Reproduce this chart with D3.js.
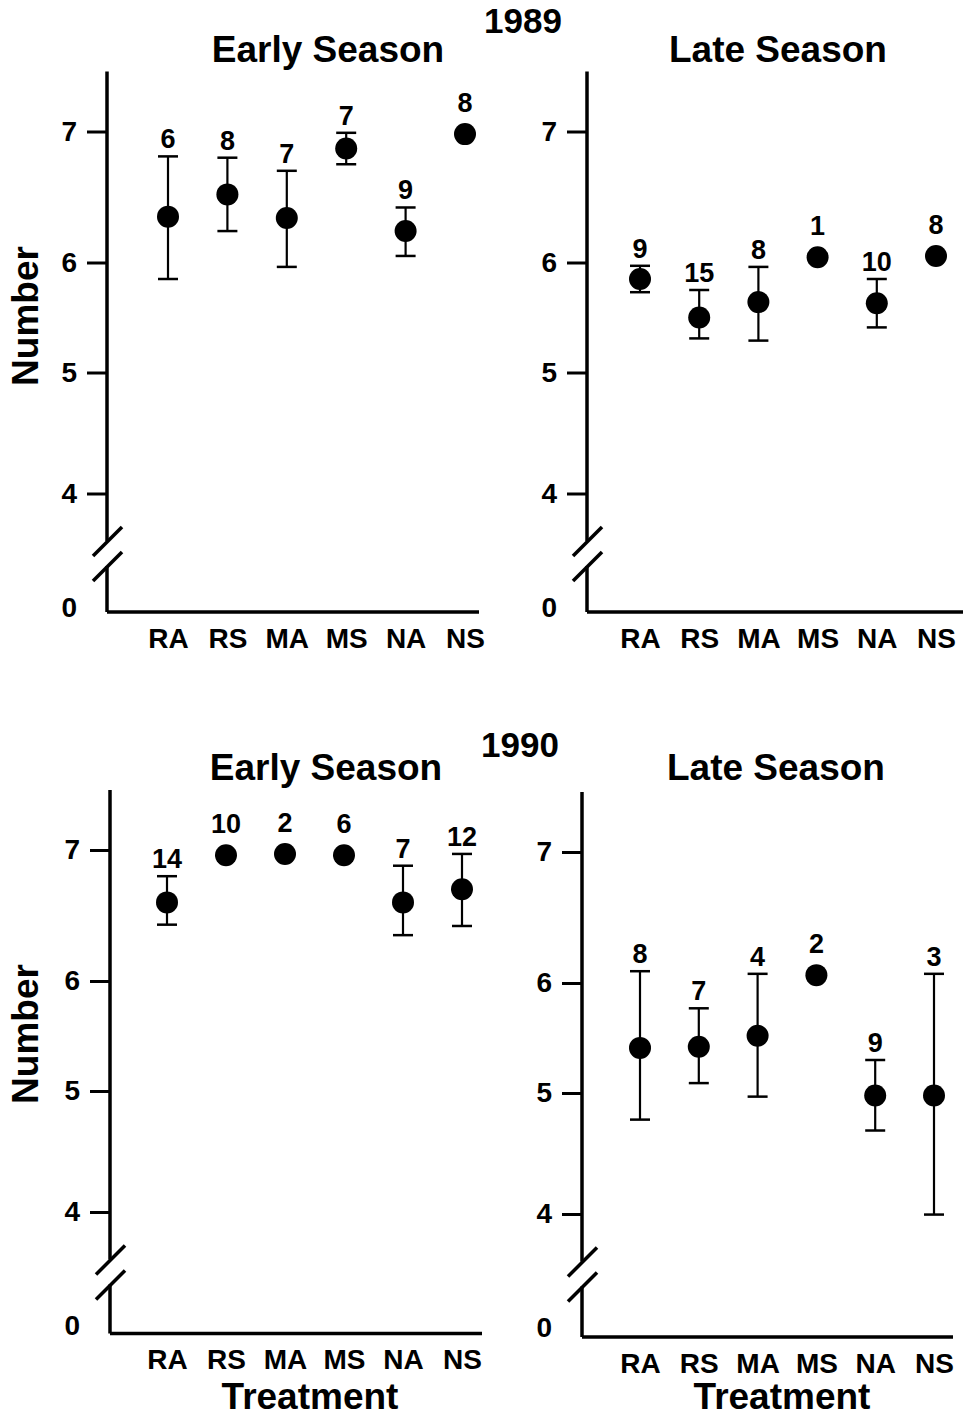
<!DOCTYPE html>
<html>
<head>
<meta charset="utf-8">
<script src="https://cdn.jsdelivr.net/npm/d3@7"></script>
<style>
  body { margin: 0; background: #fff; }
  text { font-family: "Liberation Sans", Arial, Helvetica, sans-serif; font-weight: bold; fill: #000; }
</style>
</head>
<body>
<div id="chart"></div>
<script>
// treatments and y ticks
var treatments = ["RA", "RS", "MA", "MS", "NA", "NS"];
var yTickValues = [0, 4, 5, 6, 7];

// 1989 early season
var early1989Mean = [6.35, 6.52, 6.34, 6.87, 6.24, 6.98];
var early1989Upper = [6.81, 6.80, 6.70, 6.99, 6.42, null];
var early1989Lower = [5.85, 6.24, 5.96, 6.75, 6.05, null];
var early1989N = [6, 8, 7, 7, 9, 8];

// 1989 late season
var late1989Mean = [5.85, 5.50, 5.64, 6.04, 5.63, 6.05];
var late1989Upper = [5.97, 5.75, 5.96, null, 5.85, null];
var late1989Lower = [5.73, 5.31, 5.29, null, 5.41, null];
var late1989N = [9, 15, 8, 1, 10, 8];

// 1990 early season
var early1990Mean = [6.60, 6.96, 6.97, 6.96, 6.60, 6.70];
var early1990Upper = [6.80, null, null, null, 6.88, 6.97];
var early1990Lower = [6.43, null, null, null, 6.35, 6.42];
var early1990N = [14, 10, 2, 6, 7, 12];

// 1990 late season
var late1990Mean = [5.41, 5.42, 5.52, 6.06, 4.98, 4.98];
var late1990Upper = [6.09, 5.77, 6.07, null, 5.30, 6.07];
var late1990Lower = [4.78, 5.09, 4.97, null, 4.69, 3.98];
var late1990N = [8, 7, 4, 2, 9, 3];

function rows(mean, upper, lower, n) {
    return treatments.map(function (t, i) {
        return { t: t, mean: mean[i], hi: upper[i], lo: lower[i], n: n[i] };
    });
}

// panel layout (axis origin, height, first/last category offsets, x axis length)
var panels = [
    { ox: 107, oy: 71.5, h: 540.5, x0: 61, x1: 358, len: 372, title: "Early Season", tx: 328, ty: 62,
      data: rows(early1989Mean, early1989Upper, early1989Lower, early1989N), yLabel: 316, xLabel: null },
    { ox: 587, oy: 71.5, h: 540.5, x0: 53, x1: 349, len: 376, title: "Late Season", tx: 778, ty: 62,
      data: rows(late1989Mean, late1989Upper, late1989Lower, late1989N), yLabel: null, xLabel: null },
    { ox: 110, oy: 790, h: 543.5, x0: 57, x1: 352, len: 372, title: "Early Season", tx: 326, ty: 780,
      data: rows(early1990Mean, early1990Upper, early1990Lower, early1990N), yLabel: 1034, xLabel: 310 },
    { ox: 582, oy: 792, h: 545, x0: 58, x1: 352, len: 371, title: "Late Season", tx: 776, ty: 780,
      data: rows(late1990Mean, late1990Upper, late1990Lower, late1990N), yLabel: null, xLabel: 782 }
];

var svg = d3.select("#chart")
    .append("svg")
    .attr("width", 965)
    .attr("height", 1419);

// year headings
svg.append("text").attr("x", 523).attr("y", 33).attr("text-anchor", "middle")
    .style("font-size", "35px").text("1989");
svg.append("text").attr("x", 520).attr("y", 757).attr("text-anchor", "middle")
    .style("font-size", "35px").text("1990");

panels.forEach(function (p) {
    var g = svg.append("g")
        .attr("transform", "translate(" + p.ox + "," + p.oy + ")");

    // hand-drawn axis spacing: ticks are not evenly spaced in the original
    var y = d3.scaleLinear()
        .domain(yTickValues)
        .range([536, 422, 301, 191, 60]);

    var x = d3.scalePoint()
        .domain(treatments)
        .range([p.x0, p.x1]);

    // title
    svg.append("text")
        .attr("x", p.tx)
        .attr("y", p.ty)
        .attr("text-anchor", "middle")
        .style("font-size", "37px")
        .text(p.title);

    // Y axis ticks + labels
    var yAxis = g.append("g")
        .call(d3.axisLeft(y).tickValues(yTickValues).tickFormat(d3.format("d"))
            .tickSize(20).tickPadding(10));
    yAxis.select(".domain").remove();
    yAxis.selectAll(".tick line")
        .attr("stroke", "#000")
        .attr("stroke-width", 3)
        .filter(function (d) { return d === 0; })
        .remove();
    yAxis.attr("font-family", null).attr("font-size", null);
    yAxis.selectAll(".tick text")
        .style("font-size", "28px")
        .attr("fill", "#000");

    // Y axis line with break
    var breakA = 469.5, breakB = 494.5;
    g.append("line").attr("x1", 0).attr("x2", 0).attr("y1", 0).attr("y2", breakA)
        .attr("stroke", "#000").attr("stroke-width", 3.5);
    g.append("line").attr("x1", 0).attr("x2", 0).attr("y1", breakB).attr("y2", p.h)
        .attr("stroke", "#000").attr("stroke-width", 3.5);
    [breakA, breakB].forEach(function (by) {
        g.append("line")
            .attr("x1", -14).attr("y1", by + 15)
            .attr("x2", 15).attr("y2", by - 14)
            .attr("stroke", "#000").attr("stroke-width", 3.5);
    });

    // X axis line
    g.append("line").attr("x1", 0).attr("x2", p.len).attr("y1", p.h).attr("y2", p.h)
        .attr("stroke", "#000").attr("stroke-width", 3.5);

    // X axis labels
    var xAxis = g.append("g")
        .attr("transform", "translate(0," + p.h + ")")
        .call(d3.axisBottom(x).tickSize(0).tickPadding(16));
    xAxis.select(".domain").remove();
    xAxis.attr("font-family", null).attr("font-size", null);
    xAxis.selectAll(".tick text")
        .style("font-size", "28px")
        .attr("fill", "#000");

    // axis titles
    if (p.yLabel) {
        svg.append("text")
            .attr("transform", "translate(38," + p.yLabel + ")rotate(-90)")
            .attr("text-anchor", "middle")
            .style("font-size", "37px")
            .text("Number");
    }
    if (p.xLabel) {
        svg.append("text")
            .attr("x", p.xLabel)
            .attr("y", 1409)
            .attr("text-anchor", "middle")
            .style("font-size", "37px")
            .text("Treatment");
    }

    var pts = g.selectAll(".pt")
        .data(p.data)
        .enter()
        .append("g")
        .attr("class", "pt");

    // error bars
    var withErr = pts.filter(function (d) { return d.hi != null; });
    withErr.append("line")
        .attr("x1", function (d) { return x(d.t); })
        .attr("x2", function (d) { return x(d.t); })
        .attr("y1", function (d) { return y(d.lo); })
        .attr("y2", function (d) { return y(d.hi); })
        .attr("stroke", "#000").attr("stroke-width", 2.2);
    ["hi", "lo"].forEach(function (k) {
        withErr.append("line")
            .attr("x1", function (d) { return x(d.t) - 10; })
            .attr("x2", function (d) { return x(d.t) + 10; })
            .attr("y1", function (d) { return y(d[k]); })
            .attr("y2", function (d) { return y(d[k]); })
            .attr("stroke", "#000").attr("stroke-width", 2.5);
    });

    // means
    pts.append("circle")
        .attr("cx", function (d) { return x(d.t); })
        .attr("cy", function (d) { return y(d.mean); })
        .attr("r", 11)
        .attr("fill", "#000");

    // sample sizes
    pts.append("text")
        .attr("x", function (d) { return x(d.t); })
        .attr("y", function (d) {
            return d.hi != null ? y(d.hi) - 8 : y(d.mean) - 22;
        })
        .attr("text-anchor", "middle")
        .style("font-size", "27px")
        .text(function (d) { return d.n; });
});
</script>
</body>
</html>
